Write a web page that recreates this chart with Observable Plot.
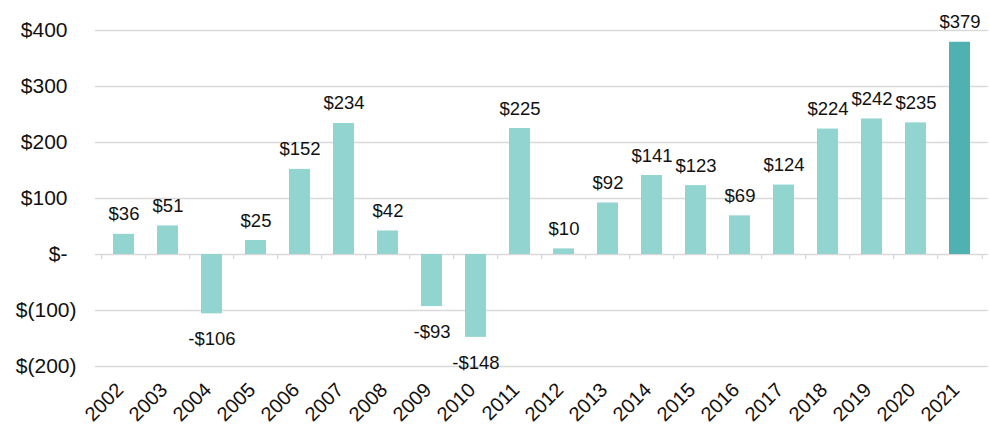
<!DOCTYPE html>
<html>
<head>
<meta charset="utf-8">
<script src="https://cdn.jsdelivr.net/npm/d3@7"></script>
<script src="https://cdn.jsdelivr.net/npm/@observablehq/plot@0.6"></script>
<style>
  html, body { margin: 0; padding: 0; background: #fff; }
  #chart svg { font-family: "Liberation Sans", Arial, sans-serif; }
</style>
</head>
<body>
<div id="chart"></div>
<script>
const years = ["2002","2003","2004","2005","2006","2007","2008","2009","2010","2011",
               "2012","2013","2014","2015","2016","2017","2018","2019","2020","2021"];
const values = [36, 51, -106, 25, 152, 234, 42, -93, -148, 225,
                10, 92, 141, 123, 69, 124, 224, 242, 235, 379];
const yTicks = [-200, -100, 0, 100, 200, 300, 400];

const data = years.map((year, i) => ({year, value: values[i], last: i === years.length - 1}));
const pos = data.filter(d => d.value >= 0);
const neg = data.filter(d => d.value < 0);

const fmtLabel = v => (v < 0 ? "-$" : "$") + Math.abs(v);
const fmtTick = v => v === 0 ? "$-" : v < 0 ? "$(" + Math.abs(v) + ")" : "$" + v;

const W = 990, H = 438, ML = 95, MR = 2;
const step = (W - ML - MR) / years.length;

const chart = Plot.plot({
  width: W,
  height: H,
  marginLeft: ML,
  marginRight: MR,
  marginTop: 30,
  marginBottom: 72,
  x: {domain: years, paddingInner: 0.52, paddingOuter: 0.26, axis: null},
  y: {domain: [-200, 400], axis: null},
  style: {fontFamily: "'Liberation Sans', Arial, sans-serif", background: "#fff"},
  marks: [
    Plot.ruleY(yTicks, {stroke: "#D9D9D9", strokeWidth: 1.3}),
    Plot.ruleX(years, {x: d => d, y1: 0, y2: -9, dx: -step / 2, stroke: "#D9D9D9", strokeWidth: 1.3}),
    Plot.ruleX([years[years.length - 1]], {x: d => d, y1: 0, y2: -9, dx: step / 2, stroke: "#D9D9D9", strokeWidth: 1.3}),
    Plot.barY(data, {x: "year", y: "value", fill: d => d.last ? "#4FB1B1" : "#91D4D0"}),
    Plot.text(pos, {x: "year", y: "value", text: d => fmtLabel(d.value), lineAnchor: "bottom", dy: -14, fontSize: 18.5, fill: "#111"}),
    Plot.text(neg, {x: "year", y: "value", text: d => fmtLabel(d.value), lineAnchor: "top", dy: 18, fontSize: 18.5, fill: "#111"}),
    Plot.axisY(yTicks.filter(v => v >= 0), {tickSize: 0, tickPadding: 28, tickFormat: fmtTick, fontSize: 21, fill: "#111", label: null, style: "letter-spacing:1.3px"}),
    Plot.axisY(yTicks.filter(v => v < 0), {tickSize: 0, tickPadding: 19, tickFormat: fmtTick, fontSize: 21, fill: "#111", label: null, style: "letter-spacing:1.3px"}),
    Plot.axisX(years, {tickSize: 0, tickPadding: 20, tickRotate: -45, fontSize: 20, fill: "#111", dx: -4, label: null})
  ]
});
document.getElementById("chart").appendChild(chart);
</script>
</body>
</html>
